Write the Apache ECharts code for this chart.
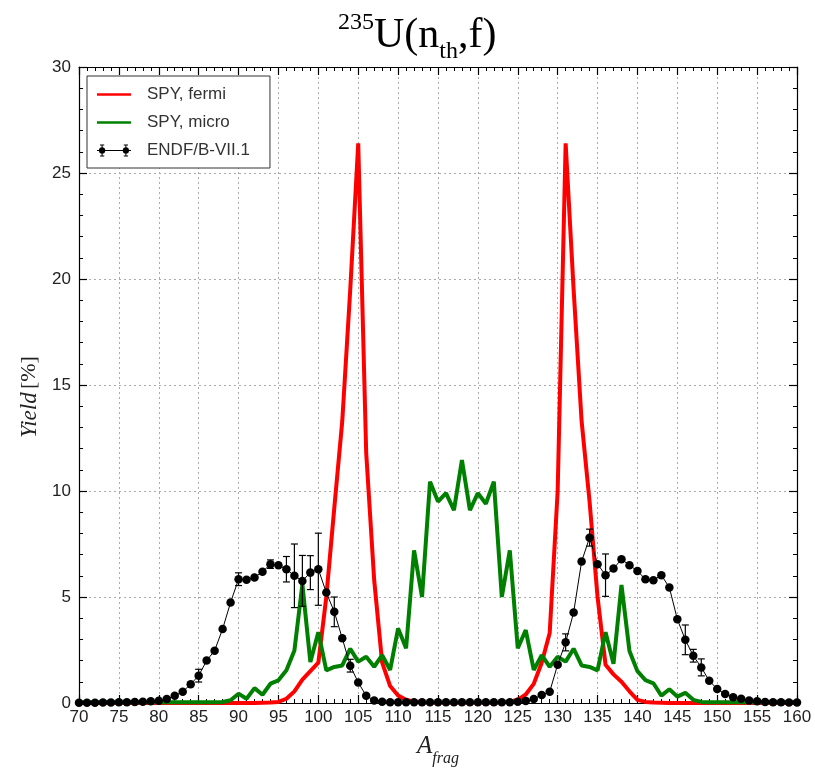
<!DOCTYPE html>
<html>
<head>
<meta charset="utf-8">
<script src="https://cdn.jsdelivr.net/npm/echarts@6/dist/echarts.min.js"></script>
<style>
html,body{margin:0;padding:0;background:#fff;}
#chart{width:815px;height:769px;}
</style>
</head>
<body>
<div id="chart"></div>
<script>
// Mass numbers A = 70 ... 160
const massStart = 70;
const massEnd = 160;

// SPY, fermi (red)  A = 70..160
const fermiYield = [
  0,0,0,0,0,0,0,0,0,0,            // 70-79
  0,0,0,0,0,0,0,0,0,0,            // 80-89
  0,0,0,0.01,0.02,0.05,0.2,0.55,1.1,1.5,        // 90-99
  1.9,5.0,9.2,13.3,19.5,26.4,11.8,5.8,1.9,0.8,  // 100-109
  0.35,0.15,0.06,0.02,0.01,0.01,0.01,0.01,0.01,0.01, // 110-119
  0.01,0.01,0.01,0.02,0.06,0.15,0.4,0.9,1.9,3.3,     // 120-129
  10.0,26.4,19.5,13.3,9.5,5.0,1.8,1.35,1.0,0.55,     // 130-139
  0.15,0.05,0.02,0.01,0,0,0,0,0,0,                   // 140-149
  0,0,0,0,0,0,0,0,0,0,0                              // 150-160
];

// SPY, micro (green)  A = 70..160
const microYield = [
  0.03,0.03,0.03,0.03,0.03,0.03,0.03,0.03,0.03,0.03, // 70-79
  0.03,0.03,0.03,0.03,0.03,0.03,0.03,0.03,0.05,0.13, // 80-89
  0.44,0.2,0.7,0.39,0.91,1.07,1.54,2.48,5.6,1.93,    // 90-99
  3.34,1.54,1.7,1.77,2.56,1.95,2.18,1.71,2.26,1.56,  // 100-109
  3.52,2.58,7.2,5.0,10.44,9.5,9.9,9.1,11.46,9.1,     // 110-119
  9.9,9.4,10.44,5.0,7.2,2.58,3.44,1.56,2.26,1.71,    // 120-129
  2.18,1.95,2.56,1.77,1.7,1.54,3.34,1.85,5.57,2.45,  // 130-139
  1.5,1.08,0.93,0.35,0.65,0.3,0.48,0.15,0.05,0.03,   // 140-149
  0.03,0.03,0.03,0.03,0.03,0.03,0.03,0.03,0.03,0.03,0.03 // 150-160
];

// ENDF/B-VII.1 (black points)  A = 70..160
const endfYield = [
  0.01,0.01,0.01,0.02,0.02,0.03,0.04,0.05,0.06,0.08, // 70-79
  0.11,0.19,0.34,0.53,0.89,1.29,2.0,2.47,3.49,4.74,  // 80-89
  5.84,5.81,5.92,6.19,6.55,6.5,6.31,6.0,5.76,6.15,   // 90-99
  6.31,5.21,4.3,3.05,1.76,0.97,0.34,0.12,0.06,0.04,  // 100-109
  0.03,0.03,0.03,0.03,0.03,0.03,0.03,0.03,0.03,0.03, // 110-119
  0.03,0.03,0.03,0.03,0.04,0.06,0.1,0.19,0.38,0.53,  // 120-129
  1.81,2.86,4.27,6.67,7.8,6.55,6.03,6.34,6.78,6.5,   // 130-139
  6.23,5.84,5.79,6.03,5.45,3.95,2.98,2.23,1.68,1.05, // 140-149
  0.66,0.42,0.27,0.2,0.12,0.08,0.05,0.04,0.03,0.02,0.02 // 150-160
];

// ENDF uncertainties (half-width) where visible
const endfErrMass = [85, 90, 94, 96, 97, 98, 99, 100, 102, 104, 131, 134, 136, 146, 147, 148];
const endfErr     = [0.3, 0.3, 0.2, 0.6, 1.5, 1.2, 0.8, 1.7, 0.7, 0.3, 0.4, 0.4, 1.0, 0.7, 0.3, 0.4];

// Axis ticks
const xTickMin = 70, xTickMax = 160, xTickStep = 5;
const yTickMin = 0, yTickMax = 30, yTickStep = 5;

const masses = [];
for (let a = massStart; a <= massEnd; a++) masses.push(a);
const pairs = arr => masses.map((a, i) => [a, arr[i]]);
const errData = endfErrMass.map((a, i) => {
  const y = endfYield[a - massStart];
  return [a, Math.max(0, y - endfErr[i]), y + endfErr[i]];
});

const chart = echarts.init(document.getElementById('chart'));
const serif = '"Liberation Serif", "DejaVu Serif", serif';
const sans = '"Liberation Sans", "DejaVu Sans", sans-serif';

const axisCommon = {
  type: 'value',
  axisLine: { show: true, onZero: false, lineStyle: { color: '#000', width: 1.2 } },
  axisTick: { show: true, inside: true, length: 8, lineStyle: { color: '#000', width: 1.2 } },
  minorTick: { show: true, splitNumber: 5, length: 4, lineStyle: { color: '#000', width: 1 } },
};

// legend icon: line with two filled dots and error bars
const endfIcon = 'path://M0,6.4L40,6.4L40,7.6L0,7.6Z ' +
  'M6,3L8.8,4.2L10,7L8.8,9.8L6,11L3.2,9.8L2,7L3.2,4.2Z ' +
  'M34,3L36.8,4.2L38,7L36.8,9.8L34,11L31.2,9.8L30,7L31.2,4.2Z ' +
  'M5.4,0L6.6,0L6.6,14L5.4,14Z M33.4,0L34.6,0L34.6,14L33.4,14Z ' +
  'M3.5,0L8.5,0L8.5,1L3.5,1Z M3.5,13L8.5,13L8.5,14L3.5,14Z ' +
  'M31.5,0L36.5,0L36.5,1L31.5,1Z M31.5,13L36.5,13L36.5,14L31.5,14Z';

chart.setOption({
  backgroundColor: '#fff',
  animation: false,
  title: {
    text: '{sup|235}{m|U(n}{sub|th}{m|,f)}',
    left: 333,
    top: 3,
    textStyle: {
      fontWeight: 'normal',
      rich: {
        m: { fontFamily: serif, fontSize: 42, fontWeight: 'normal', color: '#000', lineHeight: 56, verticalAlign: 'middle' },
        sup: { fontFamily: serif, fontSize: 24, fontWeight: 'normal', color: '#000', verticalAlign: 'top', lineHeight: 56, padding: [3, 0, 0, 0] },
        sub: { fontFamily: serif, fontSize: 24, fontWeight: 'normal', color: '#000', verticalAlign: 'bottom', lineHeight: 56, padding: [0, 0, 0, 0] }
      }
    }
  },
  legend: {
    orient: 'vertical',
    left: 87,
    top: 76,
    padding: [10, 20, 9, 10],
    itemGap: 11,
    itemWidth: 34,
    itemHeight: 15,
    backgroundColor: '#fff',
    borderColor: '#333',
    borderWidth: 1,
    textStyle: { fontFamily: sans, fontSize: 17, color: '#333', padding: [0, 0, 0, 11] },
    data: [
      { name: 'SPY, fermi', icon: 'path://M0,5.5L40,5.5L40,8.5L0,8.5Z', itemStyle: { color: '#ff0000' } },
      { name: 'SPY, micro', icon: 'path://M0,5.5L40,5.5L40,8.5L0,8.5Z', itemStyle: { color: '#008000' } },
      { name: 'ENDF/B-VII.1', icon: endfIcon, itemStyle: { color: '#000', borderColor: '#000', borderWidth: 0 } }
    ]
  },
  grid: { left: 79, right: 18, top: 67, bottom: 66, containLabel: false, outerBoundsMode: 'none' },
  xAxis: [
    Object.assign({}, axisCommon, {
      position: 'bottom',
      min: xTickMin, max: xTickMax, interval: xTickStep,
      name: '{a|A}{s|frag}',
      nameLocation: 'middle',
      nameGap: 26,
      nameTextStyle: {
        rich: {
          a: { fontFamily: serif, fontStyle: 'italic', fontSize: 25, color: '#222', verticalAlign: 'bottom', lineHeight: 30 },
          s: { fontFamily: serif, fontStyle: 'italic', fontSize: 16, color: '#222', verticalAlign: 'bottom', lineHeight: 30, padding: [0, 0, -8, 0] }
        }
      },
      axisLabel: { fontFamily: sans, fontSize: 17, color: '#222', margin: 6 },
      splitLine: { show: true, lineStyle: { color: '#aaa', type: [2, 3], width: 1 } }
    }),
    Object.assign({}, axisCommon, {
      position: 'top',
      min: xTickMin, max: xTickMax, interval: xTickStep,
      axisLabel: { show: false },
      splitLine: { show: false }
    })
  ],
  yAxis: [
    Object.assign({}, axisCommon, {
      position: 'left',
      min: yTickMin, max: yTickMax, interval: yTickStep,
      name: '{i|Yield} {n|[%]}',
      nameLocation: 'middle',
      nameRotate: 90,
      nameGap: 38,
      nameTextStyle: {
        padding: [0, 24, 0, 0],
        rich: {
          i: { fontFamily: serif, fontStyle: 'italic', fontSize: 23, color: '#222' },
          n: { fontFamily: serif, fontSize: 22, color: '#222' }
        }
      },
      axisLabel: { fontFamily: sans, fontSize: 17, color: '#222', margin: 8 },
      splitLine: { show: true, lineStyle: { color: '#aaa', type: [2, 3], width: 1 } }
    }),
    Object.assign({}, axisCommon, {
      position: 'right',
      min: yTickMin, max: yTickMax, interval: yTickStep,
      axisLabel: { show: false },
      splitLine: { show: false }
    })
  ],
  series: [
    {
      name: 'SPY, fermi', type: 'line', data: pairs(fermiYield),
      showSymbol: false, symbol: 'none',
      lineStyle: { color: '#ff0000', width: 4 }, itemStyle: { color: '#ff0000' }, z: 2
    },
    {
      name: 'SPY, micro', type: 'line', data: pairs(microYield),
      showSymbol: false, symbol: 'none',
      lineStyle: { color: '#008000', width: 4 }, itemStyle: { color: '#008000' }, z: 3
    },
    {
      name: 'ENDF/B-VII.1', type: 'line', data: pairs(endfYield),
      symbol: 'circle', symbolSize: 8.5, showSymbol: true,
      lineStyle: { color: '#000', width: 1 }, itemStyle: { color: '#000' }, z: 4
    },
    {
      name: 'ENDF/B-VII.1', type: 'custom', data: errData, z: 5,
      encode: { x: 0, y: [1, 2] },
      renderItem: function (params, api) {
        const a = api.value(0), lo = api.value(1), hi = api.value(2);
        const p1 = api.coord([a, hi]);
        const p2 = api.coord([a, lo]);
        const hw = 3.5;
        const st = { stroke: '#000', lineWidth: 1.2 };
        return {
          type: 'group',
          children: [
            { type: 'line', shape: { x1: p1[0], y1: p1[1], x2: p2[0], y2: p2[1] }, style: st },
            { type: 'line', shape: { x1: p1[0] - hw, y1: p1[1], x2: p1[0] + hw, y2: p1[1] }, style: st },
            { type: 'line', shape: { x1: p2[0] - hw, y1: p2[1], x2: p2[0] + hw, y2: p2[1] }, style: st }
          ]
        };
      }
    }
  ]
});
</script>
</body>
</html>
